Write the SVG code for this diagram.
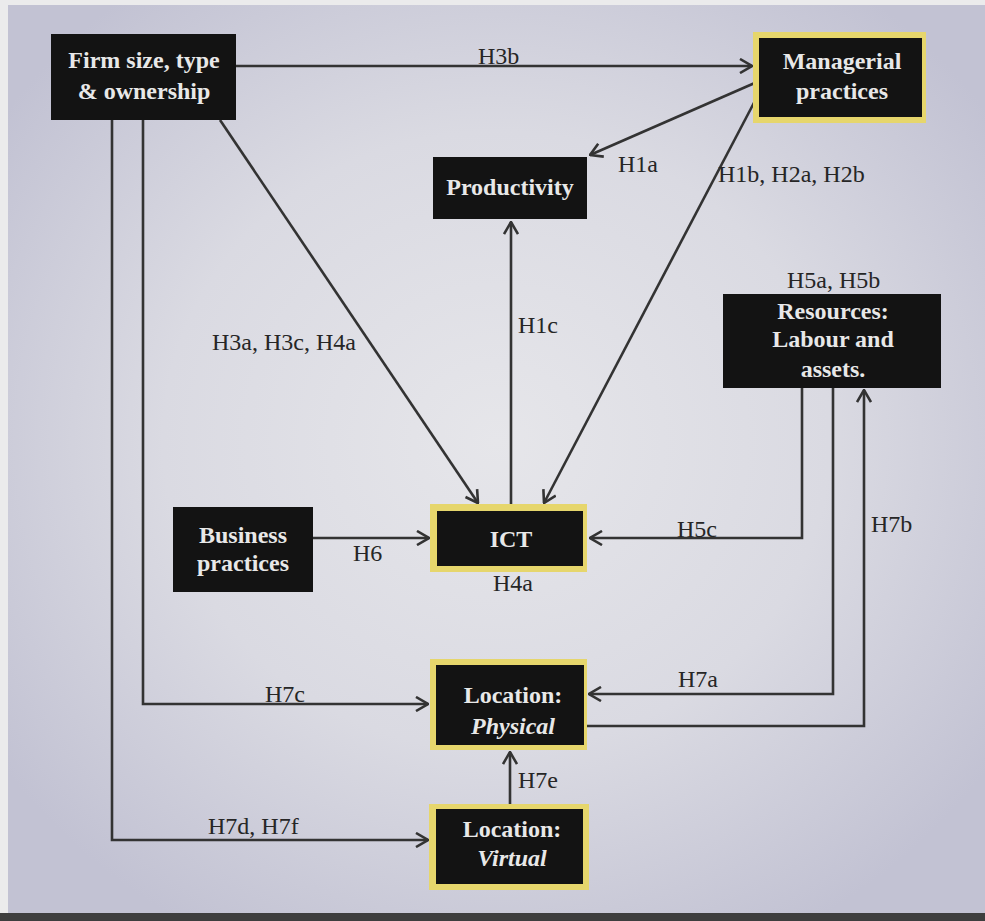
<svg xmlns="http://www.w3.org/2000/svg" width="985" height="921" viewBox="0 0 985 921">
  <defs>
    <radialGradient id="bg" cx="50%" cy="48%" r="62%">
      <stop offset="0" stop-color="#e6e6ea"/>
      <stop offset="0.55" stop-color="#dadae2"/>
      <stop offset="1" stop-color="#c2c2d3"/>
    </radialGradient>
    <marker id="arrow" viewBox="0 0 14 16" refX="13" refY="8" markerWidth="14" markerHeight="16" markerUnits="userSpaceOnUse" orient="auto">
      <path d="M1,1 L13,8 L1,15" fill="none" stroke="#333" stroke-width="2.6" stroke-linejoin="miter"/>
    </marker>
    <style>
      .box { fill: #131313; }
      .halo { fill: #e6d66c; }
      .nt { font-family: "Liberation Serif", "Times New Roman", serif; font-weight: bold; font-size: 24px; fill: #e8e8e8; text-anchor: middle; }
      .it { font-style: italic; }
      .lbl { font-family: "Liberation Serif", "Times New Roman", serif; font-size: 24px; fill: #262626; }
      .con { fill: none; stroke: #333; stroke-width: 2.6; marker-end: url(#arrow); }
    </style>
  </defs>

  <!-- page background -->
  <rect x="0" y="0" width="985" height="921" fill="#ebebec"/>
  <rect x="8" y="5" width="977" height="908" fill="url(#bg)"/>
  <rect x="0" y="913" width="985" height="8" fill="#3e3e3e"/>

  <!-- connectors -->
  <g id="connectors">
    <line class="con" x1="236" y1="66" x2="752" y2="66"/>
    <line class="con" x1="757" y1="82" x2="590" y2="155"/>
    <line class="con" x1="757" y1="97" x2="544" y2="503"/>
    <line class="con" x1="220" y1="120" x2="478" y2="503"/>
    <line class="con" x1="511" y1="504" x2="511" y2="222"/>
    <line class="con" x1="313" y1="538" x2="429" y2="538"/>
    <polyline class="con" points="802,388 802,538 590,538"/>
    <polyline class="con" points="833,388 833,694 589,694"/>
    <polyline class="con" points="587,726 864,726 864,390"/>
    <polyline class="con" points="143,120 143,704 428,704"/>
    <polyline class="con" points="112,120 112,840 428,840"/>
    <line class="con" x1="510" y1="804" x2="510" y2="752"/>
  </g>

  <!-- connector labels -->
  <g id="labels">
    <text class="lbl" x="478" y="64">H3b</text>
    <text class="lbl" x="618" y="172">H1a</text>
    <text class="lbl" x="718" y="182">H1b, H2a, H2b</text>
    <text class="lbl" x="787" y="288">H5a, H5b</text>
    <text class="lbl" x="212" y="350">H3a, H3c, H4a</text>
    <text class="lbl" x="518" y="333">H1c</text>
    <text class="lbl" x="353" y="561">H6</text>
    <text class="lbl" x="493" y="591">H4a</text>
    <text class="lbl" x="677" y="537">H5c</text>
    <text class="lbl" x="871" y="532">H7b</text>
    <text class="lbl" x="678" y="687">H7a</text>
    <text class="lbl" x="265" y="702">H7c</text>
    <text class="lbl" x="518" y="788">H7e</text>
    <text class="lbl" x="208" y="834">H7d, H7f</text>
  </g>

  <!-- nodes -->
  <g id="firm">
    <rect class="box" x="51" y="34" width="185" height="86"/>
    <text class="nt" x="144" y="68">Firm size, type</text>
    <text class="nt" x="144" y="99">&amp; ownership</text>
  </g>

  <g id="managerial">
    <rect class="halo" x="753" y="32" width="173" height="91"/>
    <rect class="box" x="759" y="38" width="163" height="79"/>
    <text class="nt" x="842" y="69">Managerial</text>
    <text class="nt" x="842" y="99">practices</text>
  </g>

  <g id="productivity">
    <rect class="box" x="433" y="157" width="154" height="62"/>
    <text class="nt" x="510" y="195">Productivity</text>
  </g>

  <g id="resources">
    <rect class="box" x="723" y="294" width="218" height="94"/>
    <text class="nt" x="833" y="319">Resources:</text>
    <text class="nt" x="833" y="347">Labour and</text>
    <text class="nt" x="833" y="377">assets.</text>
  </g>

  <g id="business">
    <rect class="box" x="173" y="507" width="140" height="85"/>
    <text class="nt" x="243" y="543">Business</text>
    <text class="nt" x="243" y="571">practices</text>
  </g>

  <g id="ict">
    <rect class="halo" x="430" y="504" width="157" height="68"/>
    <rect class="box" x="437" y="511" width="146" height="55"/>
    <text class="nt" x="511" y="547">ICT</text>
  </g>

  <g id="physical">
    <rect class="halo" x="430" y="659" width="157" height="91"/>
    <rect class="box" x="436" y="665" width="148" height="80"/>
    <text class="nt" x="513" y="703">Location:</text>
    <text class="nt it" x="513" y="734">Physical</text>
  </g>

  <g id="virtual">
    <rect class="halo" x="429" y="804" width="160" height="86"/>
    <rect class="box" x="436" y="809" width="147" height="75"/>
    <text class="nt" x="512" y="837">Location:</text>
    <text class="nt it" x="512" y="866">Virtual</text>
  </g>
</svg>
